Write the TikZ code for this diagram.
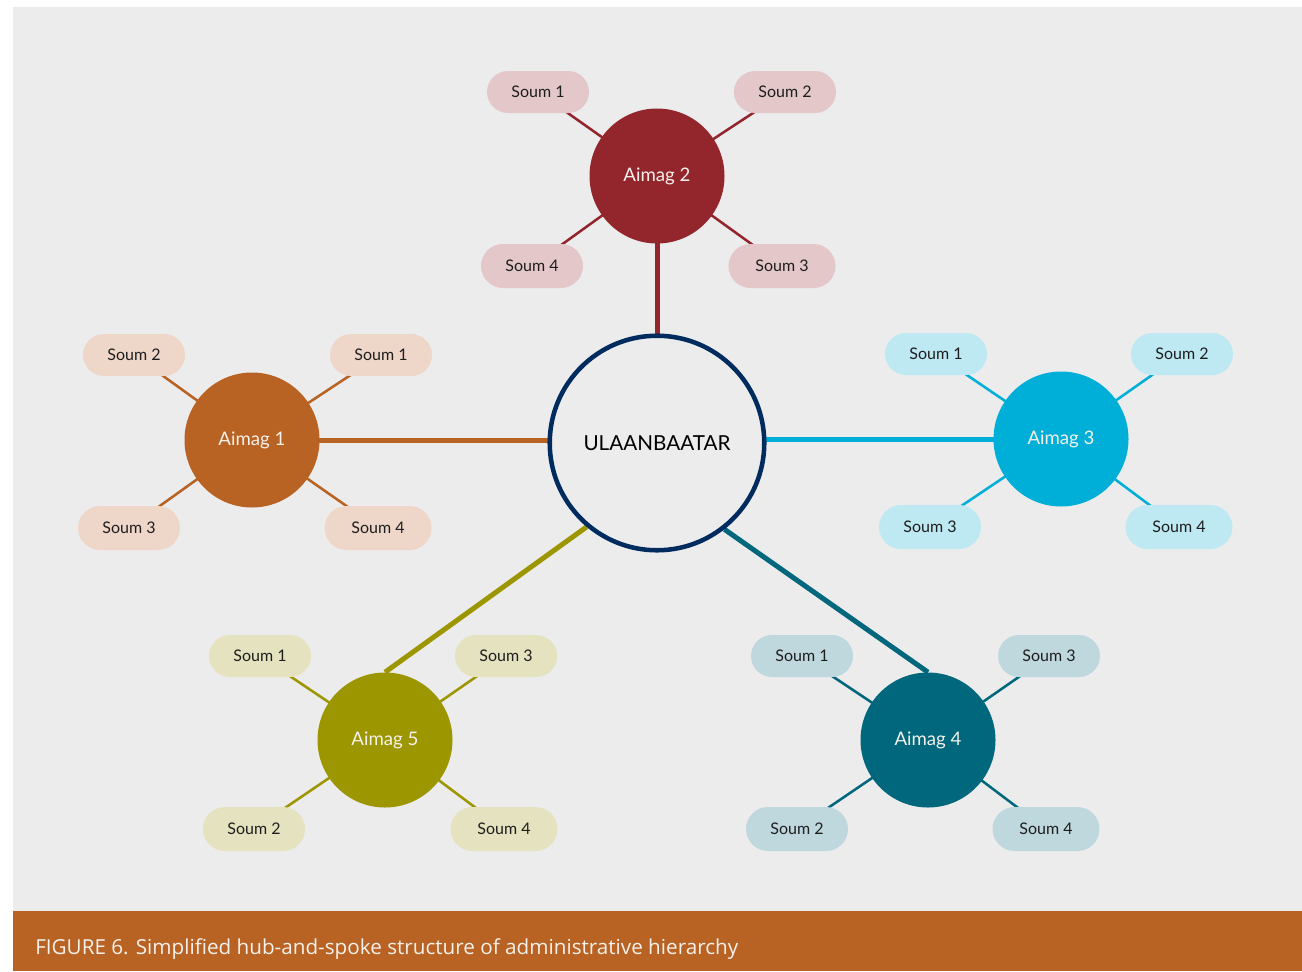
\documentclass[tikz,border=0pt]{standalone}
\usepackage{fontspec}
\setmainfont{Lato}
\newfontfamily\captionfont{Open Sans}
\usetikzlibrary{backgrounds}
\definecolor{panelgrey}{HTML}{ECECEC}
\definecolor{rust}{HTML}{B86223}
\definecolor{hubblue}{HTML}{002B5E}
\definecolor{aimagone}{HTML}{B86223}
\definecolor{aimagtwo}{HTML}{93262D}
\definecolor{aimagthree}{HTML}{00AFD8}
\definecolor{aimagfour}{HTML}{00677C}
\definecolor{aimagfive}{HTML}{9C9600}
\definecolor{paleone}{HTML}{EED7C9}
\definecolor{paletwo}{HTML}{E3C7C9}
\definecolor{palethree}{HTML}{BEE9F3}
\definecolor{palefour}{HTML}{BFD8DE}
\definecolor{palefive}{HTML}{E5E3BF}
\definecolor{darktext}{HTML}{1E1E1E}
\definecolor{lighttext}{HTML}{F5F1EC}
\tikzset{
  hubnode/.style={circle,draw=hubblue,line width=3.4pt,fill=panelgrey,minimum size=160.9pt,inner sep=0pt,font=\fontsize{15.5}{18}\selectfont,text=black},
  aimagnode/.style={circle,minimum size=101.25pt,inner sep=0pt,font=\fontsize{14}{16}\selectfont,text=lighttext},
  soumnode/.style={rounded corners=15.75pt,minimum width=76.5pt,minimum height=31.5pt,inner sep=0pt,font=\fontsize{12}{14}\selectfont,text=darktext},
  widesoum/.style={soumnode,minimum width=80.25pt,minimum height=33pt,rounded corners=16.5pt},
  lowsoum/.style={soumnode,minimum height=33pt,rounded corners=16.5pt},
  spoke/.style={line width=1.9pt},
  bigspoke/.style={line width=3.75pt},
  captionlabel/.style={font=\captionfont\fontsize{15.5}{18}\selectfont,text=lighttext,inner sep=0pt}
}

\begin{document}
\begin{tikzpicture}[x=0.75pt,y=-0.75pt]
\useasboundingbox (0,0) rectangle (1302,971);

% capital and aimags
\node[hubnode] (ub) at (657,443) {ULAANBAATAR};
\node[aimagnode,fill=aimagone] (a1) at (252,440) {Aimag 1};
\node[aimagnode,fill=aimagtwo] (a2) at (657,176) {Aimag 2};
\node[aimagnode,fill=aimagthree] (a3) at (1061,439) {Aimag 3};
\node[aimagnode,fill=aimagfour] (a4) at (928,740) {Aimag 4};
\node[aimagnode,fill=aimagfive] (a5) at (385,740) {Aimag 5};

% soums of aimag 1
\node[soumnode,fill=paleone] (a1s2) at (134,355) {Soum 2};
\node[soumnode,fill=paleone] (a1s1) at (381,355) {Soum 1};
\node[lowsoum,fill=paleone] (a1s3) at (129,528) {Soum 3};
\node[widesoum,fill=paleone] (a1s4) at (378,528) {Soum 4};

% soums of aimag 2
\node[soumnode,fill=paletwo] (a2s1) at (538,92) {Soum 1};
\node[soumnode,fill=paletwo] (a2s2) at (785,92) {Soum 2};
\node[lowsoum,fill=paletwo] (a2s4) at (532,266) {Soum 4};
\node[widesoum,fill=paletwo] (a2s3) at (782,266) {Soum 3};

% soums of aimag 3
\node[soumnode,fill=palethree] (a3s1) at (936,354) {Soum 1};
\node[soumnode,fill=palethree] (a3s2) at (1182,354) {Soum 2};
\node[lowsoum,fill=palethree] (a3s3) at (930,527) {Soum 3};
\node[widesoum,fill=palethree] (a3s4) at (1179,527) {Soum 4};

% soums of aimag 4
\node[soumnode,fill=palefour] (a4s1) at (802,656) {Soum 1};
\node[soumnode,fill=palefour] (a4s3) at (1049,656) {Soum 3};
\node[lowsoum,fill=palefour] (a4s2) at (797,829) {Soum 2};
\node[widesoum,fill=palefour] (a4s4) at (1046,829) {Soum 4};

% soums of aimag 5
\node[soumnode,fill=palefive] (a5s1) at (260,656) {Soum 1};
\node[soumnode,fill=palefive] (a5s3) at (506,656) {Soum 3};
\node[lowsoum,fill=palefive] (a5s2) at (254,829) {Soum 2};
\node[widesoum,fill=palefive] (a5s4) at (504,829) {Soum 4};

\node[captionlabel,anchor=base west] (cap) at (35,954) {FIGURE 6. Simplified hub-and-spoke structure of administrative hierarchy};

\begin{scope}[on background layer]
  \fill[panelgrey] (13,7) rectangle (1302,911);
  \fill[rust] (13,911) rectangle (1302,971);
  % capital to aimags
  \draw[bigspoke,aimagone] (a1.center) -- (a1 -| ub.center);
  \draw[bigspoke,aimagtwo] (a2.center) -- (ub.center);
  \draw[bigspoke,aimagthree] (a3.center) -- (a3 -| ub.center);
  \draw[bigspoke,aimagfour] (ub.-52) -- (a4.north);
  \draw[bigspoke,aimagfive] (ub.230) -- (a5.north);
  % aimags to soums
  \foreach \a/\c in {a1/aimagone,a2/aimagtwo,a3/aimagthree,a4/aimagfour,a5/aimagfive}
    \foreach \s in {1,2,3,4}
      \draw[spoke,\c] (\a.center) -- (\a s\s.center);
\end{scope}
\end{tikzpicture}
\end{document}
